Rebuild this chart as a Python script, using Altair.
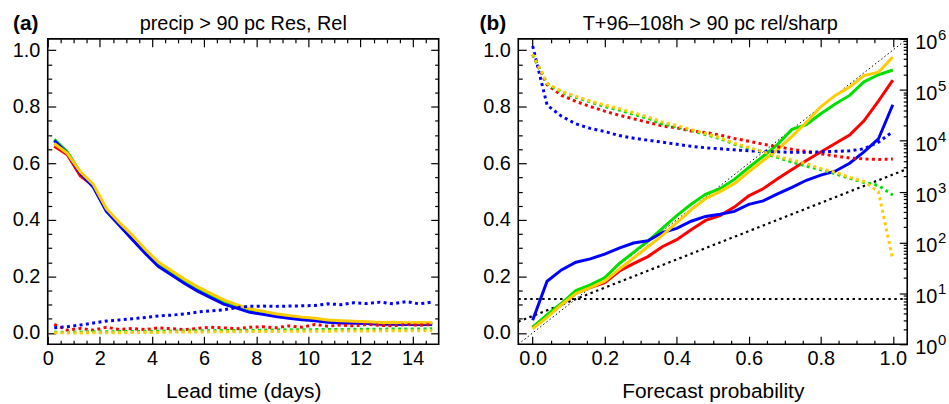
import altair as alt
import pandas as pd

FONT = "Liberation Sans"

# ---------------- panel (a): resolution / reliability vs lead time ----------------
lead_days = [0.25, 0.75, 1.25, 1.75, 2.25, 2.75, 3.25, 3.75, 4.25, 4.75,
             5.25, 5.75, 6.25, 6.75, 7.25, 7.75, 8.25, 8.75, 9.25, 9.75,
             10.25, 10.75, 11.25, 11.75, 12.25, 12.75, 13.25, 13.75, 14.25, 14.75]

res_red = [0.66, 0.63, 0.555, 0.52, 0.435, 0.385, 0.338, 0.288, 0.243, 0.212,
           0.182, 0.155, 0.132, 0.11, 0.094, 0.079, 0.071, 0.063, 0.057, 0.052,
           0.047, 0.042, 0.039, 0.037, 0.036, 0.034, 0.034, 0.033, 0.034, 0.033]
res_green = [0.685, 0.64, 0.568, 0.52, 0.435, 0.385, 0.34, 0.29, 0.245, 0.213,
             0.183, 0.156, 0.133, 0.11, 0.094, 0.079, 0.071, 0.063, 0.057, 0.052,
             0.047, 0.042, 0.039, 0.037, 0.036, 0.034, 0.034, 0.033, 0.034, 0.033]
res_blue = [0.68, 0.635, 0.565, 0.515, 0.43, 0.38, 0.33, 0.28, 0.235, 0.205,
            0.175, 0.148, 0.125, 0.102, 0.088, 0.073, 0.066, 0.058, 0.052, 0.047,
            0.043, 0.038, 0.035, 0.034, 0.033, 0.031, 0.031, 0.03, 0.031, 0.03]
res_gold = [0.67, 0.635, 0.57, 0.525, 0.44, 0.39, 0.345, 0.295, 0.25, 0.22,
            0.19, 0.163, 0.14, 0.117, 0.1, 0.085, 0.077, 0.068, 0.062, 0.056,
            0.052, 0.046, 0.043, 0.041, 0.04, 0.037, 0.038, 0.036, 0.037, 0.036]

rel_red = [0.03, 0.01, 0.016, 0.01, 0.02, 0.012, 0.016, 0.012, 0.018, 0.015,
           0.012, 0.016, 0.02, 0.018, 0.015, 0.02, 0.022, 0.018, 0.025, 0.02,
           0.03, 0.024, 0.028, 0.025, 0.03, 0.027, 0.025, 0.03, 0.027, 0.03]
rel_green = [0.003, 0.002, 0.003, 0.004, 0.004, 0.005, 0.005, 0.006, 0.006, 0.007,
             0.007, 0.008, 0.008, 0.009, 0.009, 0.01, 0.01, 0.011, 0.011, 0.011,
             0.012, 0.012, 0.012, 0.013, 0.013, 0.013, 0.014, 0.014, 0.014, 0.015]
rel_blue = [0.018, 0.022, 0.028, 0.035, 0.042, 0.046, 0.05, 0.055, 0.06, 0.063,
            0.067, 0.074, 0.078, 0.082, 0.09, 0.094, 0.095, 0.094, 0.095, 0.096,
            0.097, 0.103, 0.1, 0.107, 0.104, 0.109, 0.103, 0.111, 0.103, 0.109]
rel_gold = [0.001, 0.0, 0.0, 0.001, 0.001, 0.001, 0.002, 0.002, 0.002, 0.003,
            0.003, 0.003, 0.004, 0.004, 0.004, 0.005, 0.005, 0.005, 0.006, 0.006,
            0.006, 0.006, 0.007, 0.007, 0.007, 0.007, 0.008, 0.008, 0.008, 0.008]

# ---------------- panel (b): reliability diagram + sharpness ----------------
fc_prob = [0.0, 0.04, 0.08, 0.12, 0.16, 0.2, 0.24, 0.28, 0.32, 0.36, 0.4, 0.44, 0.48,
           0.52, 0.56, 0.6, 0.64, 0.68, 0.72, 0.76, 0.8, 0.84, 0.88, 0.92, 0.96, 1.0]

obs_red = [0.02, 0.06, 0.1, 0.14, 0.16, 0.178, 0.218, 0.245, 0.27, 0.305, 0.33, 0.365, 0.398,
           0.415, 0.445, 0.485, 0.51, 0.545, 0.578, 0.61, 0.64, 0.67, 0.7, 0.75, 0.82, 0.894]
obs_green = [0.02, 0.065, 0.105, 0.15, 0.17, 0.195, 0.245, 0.285, 0.325, 0.37, 0.415, 0.455, 0.49,
             0.51, 0.543, 0.585, 0.625, 0.667, 0.72, 0.737, 0.775, 0.81, 0.84, 0.888, 0.913, 0.93]
obs_blue = [0.045, 0.183, 0.223, 0.25, 0.262, 0.279, 0.3, 0.318, 0.326, 0.355, 0.37, 0.395, 0.412,
            0.42, 0.43, 0.455, 0.467, 0.492, 0.515, 0.54, 0.558, 0.572, 0.6, 0.64, 0.686, 0.807]
obs_gold = [0.015, 0.055, 0.1, 0.139, 0.16, 0.183, 0.225, 0.265, 0.305, 0.345, 0.39, 0.435, 0.475,
            0.5, 0.528, 0.57, 0.61, 0.648, 0.695, 0.745, 0.8, 0.84, 0.87, 0.91, 0.922, 0.976]

# number of forecasts in each probability bin (right-hand log axis)
count_red = [490000, 126000, 77600, 58900, 46800, 38000, 31600, 26900, 22900, 19500, 17800,
             15500, 14500, 12900, 11000, 9770, 8510, 7590, 6760, 6170, 5500, 5010, 4570,
             4370, 4270, 4370]
count_green = [490000, 132000, 89100, 70800, 57500, 46800, 39800, 33100, 27500, 21400, 18600,
               15800, 13200, 11000, 8510, 7080, 5750, 4680, 3800, 3160, 2690, 2240, 1820,
               1510, 1320, 851]
count_blue = [724000, 50100, 30200, 21400, 17400, 15100, 12600, 11200, 10200, 9330, 8510,
              7760, 7240, 6920, 6610, 6310, 6170, 6030, 5890, 5890, 6030, 6170, 6310,
              6920, 9330, 15100]
count_gold = [501000, 135000, 93300, 74100, 60300, 50100, 42700, 35500, 29500, 23400, 20000,
              16600, 13800, 11500, 8910, 7410, 6030, 4900, 4170, 3550, 2820, 2400, 1910,
              1580, 1000, 46]

# reference lines: perfect reliability, no-skill and climatology
diag_p = [-0.04, 1.04]
diag_v = [-0.04, 1.04]
noskill_p = [-0.04, 1.04]
noskill_v = [0.04, 0.58]
clim_p = [-0.04, 1.04]
clim_v = [0.12, 0.12]

# ---------------- tick positions and log-axis labels ----------------
y_major = [0.0, 0.2, 0.4, 0.6, 0.8, 1.0]
y_minor = [0.05, 0.1, 0.15, 0.25, 0.3, 0.35, 0.45, 0.5, 0.55, 0.65, 0.7, 0.75, 0.85, 0.9, 0.95]
lead_major = [0, 2, 4, 6, 8, 10, 12, 14]
lead_minor = [0.5, 1, 1.5, 2.5, 3, 3.5, 4.5, 5, 5.5, 6.5, 7, 7.5, 8.5, 9, 9.5,
              10.5, 11, 11.5, 12.5, 13, 13.5, 14.5]
prob_major = [0.0, 0.2, 0.4, 0.6, 0.8, 1.0]
prob_minor = [0.05, 0.1, 0.15, 0.25, 0.3, 0.35, 0.45, 0.5, 0.55, 0.65, 0.7, 0.75, 0.85, 0.9, 0.95]
count_major = [1, 10, 100, 1000, 10000, 100000, 1000000]
count_exponent = ["0", "1", "2", "3", "4", "5", "6"]
count_minor = [2, 3, 4, 5, 6, 7, 8, 9,
               20, 30, 40, 50, 60, 70, 80, 90,
               200, 300, 400, 500, 600, 700, 800, 900,
               2000, 3000, 4000, 5000, 6000, 7000, 8000, 9000,
               20000, 30000, 40000, 50000, 60000, 70000, 80000, 90000,
               200000, 300000, 400000, 500000, 600000, 700000, 800000, 900000]

COLORS = {"red": "#FF0000", "green": "#00E000", "blue": "#0000FF", "gold": "#FFCC00"}
MAJOR, MINOR = 8, 4
PANEL_W_A, PANEL_W_B, PANEL_H = 393, 391, 307


def axis(orient, values, length, labels=False, title=None, fmt=None,
         pad=16, title_pad=None):
    kw = dict(orient=orient, values=values, tickSize={"expr": str(-length)},
              tickColor="black", tickWidth=1.2, domain=False, grid=False,
              labels=labels, title=title, minExtent=0)
    if labels:
        kw.update(labelFont=FONT, labelFontSize=20, labelColor="black",
                  labelPadding=pad, labelFlush=False, labelOverlap=False,
                  labelBound=False)
        if fmt:
            kw["format"] = fmt
    if title:
        kw.update(titleFont=FONT, titleFontSize=21, titleFontWeight="normal",
                  titleColor="black")
        if title_pad is not None:
            kw["titlePadding"] = title_pad
    return alt.Axis(**kw)


def frame(xs, ys):
    return pd.DataFrame({"x": xs, "v": ys})


def line(df, color, xscale, yscale, xaxis=None, yaxis=None, dotted=False,
         width=3.0, dash=None):
    mark = dict(color=color, strokeWidth=width, clip=True)
    if dotted:
        mark.update(strokeDash=[3, 3.4], strokeCap="butt")
    if dash:
        mark.update(strokeDash=dash, strokeCap="butt")
    return alt.Chart(df).mark_line(**mark).encode(
        x=alt.X("x:Q", scale=xscale, axis=xaxis),
        y=alt.Y("v:Q", scale=yscale, axis=yaxis),
    )


def heading(txt, x, bold=False, align="left"):
    return alt.Chart(pd.DataFrame({"t": [txt]})).mark_text(
        font=FONT, fontSize=21 if bold else 20,
        fontWeight="bold" if bold else "normal", align=align,
        baseline="alphabetic", color="black"
    ).encode(text="t:N", x=alt.value(x), y=alt.value(-9))


# ---------------- panel (a) ----------------
xa = alt.Scale(domain=[0, 15], nice=False, zero=False)
ya = alt.Scale(domain=[-0.04, 1.04], nice=False, zero=False)

panel_a = alt.layer(
    line(frame(lead_days, res_red), COLORS["red"], xa, ya,
         axis("bottom", lead_major, MAJOR, labels=True, title="Lead time (days)", fmt="d", pad=12, title_pad=13),
         axis("left", y_major, MAJOR, labels=True, fmt=".1f", pad=16)),
    line(frame(lead_days, res_green), COLORS["green"], xa, ya,
         axis("bottom", lead_minor, MINOR), axis("left", y_minor, MINOR)),
    line(frame(lead_days, res_blue), COLORS["blue"], xa, ya,
         axis("top", lead_major, MAJOR), axis("right", y_major, MAJOR)),
    line(frame(lead_days, res_gold), COLORS["gold"], xa, ya,
         axis("top", lead_minor, MINOR), axis("right", y_minor, MINOR)),
    line(frame(lead_days, rel_red), COLORS["red"], xa, ya, dotted=True),
    line(frame(lead_days, rel_green), COLORS["green"], xa, ya, dotted=True),
    line(frame(lead_days, rel_gold), COLORS["gold"], xa, ya, dotted=True),
    line(frame(lead_days, rel_blue), COLORS["blue"], xa, ya, dotted=True),
    heading("(a)", -35, bold=True),
    heading("precip > 90 pc Res, Rel", PANEL_W_A / 2, align="center"),
).resolve_axis(x="independent", y="independent").properties(
    width=PANEL_W_A, height=PANEL_H
)

# ---------------- panel (b) ----------------
xb = alt.Scale(domain=[-0.04, 1.04], nice=False, zero=False)
yb = alt.Scale(domain=[-0.04, 1.04], nice=False, zero=False)
yc = alt.Scale(type="log", domain=[1, 1000000], nice=False)

reliability = alt.layer(
    line(frame(diag_p, diag_v), "black", xb, yb, width=1.0, dash=[1.5, 2.5]),
    line(frame(noskill_p, noskill_v), "black", xb, yb, width=2.2, dash=[2.5, 3.5]),
    line(frame(clim_p, clim_v), "black", xb, yb, width=2.2, dash=[2.5, 3.5]),
    line(frame(fc_prob, obs_red), COLORS["red"], xb, yb,
         axis("bottom", prob_major, MAJOR, labels=True, title="Forecast probability", fmt=".1f", pad=12, title_pad=13),
         axis("left", y_major, MAJOR, labels=True, fmt=".1f", pad=16)),
    line(frame(fc_prob, obs_green), COLORS["green"], xb, yb,
         axis("bottom", prob_minor, MINOR), axis("left", y_minor, MINOR)),
    line(frame(fc_prob, obs_blue), COLORS["blue"], xb, yb,
         axis("top", prob_major, MAJOR)),
    line(frame(fc_prob, obs_gold), COLORS["gold"], xb, yb,
         axis("top", prob_minor, MINOR)),
    heading("(b)", -39, bold=True),
    heading("T+96\u2013108h > 90 pc rel/sharp", 193, align="center"),
).resolve_axis(x="independent", y="independent")

# power-of-ten labels for the count axis: "10" with a raised exponent
decades = pd.DataFrame({"v": count_major, "e": count_exponent, "base": ["10"] * 7})
decade_base = alt.Chart(decades).mark_text(
    font=FONT, fontSize=20, align="left", baseline="middle", color="black", dy=4
).encode(text="base:N", x=alt.value(PANEL_W_B + 8),
         y=alt.Y("v:Q", scale=yc, axis=None))
decade_exp = alt.Chart(decades).mark_text(
    font=FONT, fontSize=15, align="left", baseline="middle", color="black", dy=-4
).encode(text="e:N", x=alt.value(PANEL_W_B + 31),
         y=alt.Y("v:Q", scale=yc, axis=None))

sharpness = alt.layer(
    line(frame(fc_prob, count_red), COLORS["red"], xb, yc, None,
         axis("right", count_major, MAJOR), dotted=True),
    line(frame(fc_prob, count_green), COLORS["green"], xb, yc, None,
         axis("right", count_minor, MINOR), dotted=True),
    line(frame(fc_prob, count_blue), COLORS["blue"], xb, yc, dotted=True),
    line(frame(fc_prob, count_gold), COLORS["gold"], xb, yc, dotted=True),
    decade_base,
    decade_exp,
).resolve_axis(x="independent", y="independent")

panel_b = alt.layer(reliability, sharpness).resolve_scale(y="independent").resolve_axis(
    x="independent", y="independent"
).properties(width=PANEL_W_B, height=PANEL_H)

chart = alt.hconcat(panel_a, panel_b, spacing=38).properties(
    padding={"left": 11, "top": 11, "right": 1, "bottom": 4},
    background="white",
).configure_view(stroke="black", strokeWidth=1.6).configure_concat(spacing=38)

chart.save("out.html", embed_options={"renderer": "svg", "actions": False})
